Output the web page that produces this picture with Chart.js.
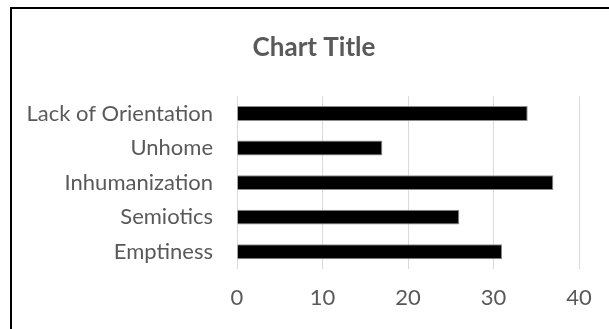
<!DOCTYPE html>
<html>
<head>
<meta charset="utf-8">
<script src="https://cdn.jsdelivr.net/npm/chart.js@4/dist/chart.umd.min.js"></script>
<style>
  html, body { margin: 0; padding: 0; background: #fff; overflow: hidden; }
  #wrap { position: relative; width: 609px; height: 329px; }
  #frame { position: absolute; left: 10px; top: 7px; width: 700px; height: 400px;
           border-left: 2px solid #000; border-top: 2px solid #000; pointer-events: none; }
  canvas { position: absolute; left: 0; top: 0; }
</style>
</head>
<body>
<div id="wrap">
  <canvas id="c" width="609" height="329"></canvas>
  <div id="frame"></div>
</div>
<script>
const categories = ["Lack of Orientation", "Unhome", "Inhumanization", "Semiotics", "Emptiness"];
const values = [34, 17, 37, 26, 31];
const xTicks = [0, 10, 20, 30, 40];
const titleText = "Chart Title";

const FONT = "Lato, 'Liberation Sans', sans-serif";
const TEXT = "#595959";

new Chart(document.getElementById("c"), {
  type: "bar",
  data: {
    labels: categories,
    datasets: [{
      data: values,
      backgroundColor: "#000000",
      borderColor: "#8c8c8c",
      borderWidth: 1,
      barPercentage: 0.54,
      categoryPercentage: 0.8
    }]
  },
  options: {
    indexAxis: "y",
    responsive: false,
    animation: false,
    layout: { padding: { left: 19, right: 0, top: 0, bottom: 0 } },
    plugins: {
      legend: { display: false },
      tooltip: { enabled: false },
      title: {
        display: true,
        text: titleText,
        color: TEXT,
        font: { family: FONT, size: 26, weight: "bold", lineHeight: 1.2 },
        padding: { top: 32, bottom: 33 }
      }
    },
    scales: {
      x: {
        min: xTicks[0],
        max: xTicks[xTicks.length - 1],
        afterBuildTicks: (s) => { s.ticks = xTicks.map(v => ({ value: v })); },
        afterFit: (s) => { s.height = 60; },
        grid: { color: "#d9d9d9", lineWidth: 1, drawTicks: false },
        border: { display: false },
        ticks: { color: TEXT, font: { family: FONT, size: 22 }, padding: 16 }
      },
      y: {
        afterFit: (s) => { s.width = 218; },
        grid: { display: false, drawTicks: false },
        border: { display: false },
        ticks: { color: TEXT, font: { family: FONT, size: 22 }, padding: 24 }
      },
      yRight: {
        type: "linear",
        position: "right",
        afterFit: (s) => { s.width = 30; },
        grid: { display: false, drawTicks: false },
        border: { display: false },
        ticks: { display: false }
      }
    }
  }
});
</script>
</body>
</html>
